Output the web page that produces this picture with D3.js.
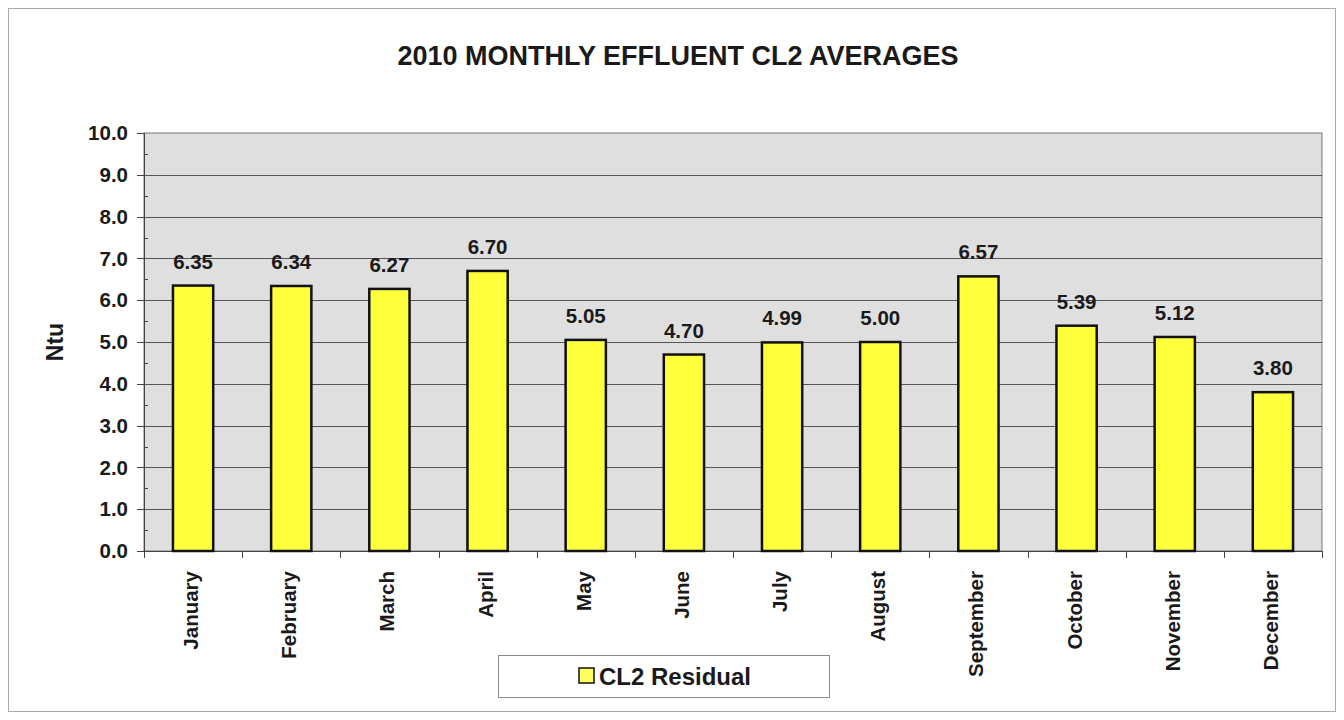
<!DOCTYPE html>
<html lang="en">
<head>
  <meta charset="UTF-8">
  <title>2010 Monthly Effluent CL2 Averages</title>
  <script src="https://d3js.org/d3.v7.min.js"></script>
  <style>
    body, html { margin: 0; padding: 0; background: #fff; }
    svg { display: block; font-family: Arial, "Liberation Sans", sans-serif; }
    .title { font-size: 27px; font-weight: bold; fill: #1a1a1a; text-anchor: middle; }
    .ytick text, .xlab, .vlabel { font-size: 20.5px; font-weight: bold; fill: #1a1a1a; }
    .ylabel { font-size: 23px; font-weight: bold; fill: #1a1a1a; text-anchor: middle; }
  </style>
</head>
<body>
<svg id="chart" width="1344" height="720"></svg>
<script>
  // monthly averages
  const months = ["January", "February", "March", "April", "May", "June",
                  "July", "August", "September", "October", "November", "December"];
  const cl2 = [6.35, 6.34, 6.27, 6.70, 5.05, 4.70, 4.99, 5.00, 6.57, 5.39, 5.12, 3.80];
  const yTicks = [0, 1, 2, 3, 4, 5, 6, 7, 8, 9, 10];
  const minorTicks = d3.range(0.5, 10, 1);

  const svg = d3.select("#chart");
  const pLeft = 144, pRight = 1322, pTop = 133, pBottom = 551;

  // outer frame
  svg.append("rect")
    .attr("x", 8.5).attr("y", 8.5).attr("width", 1327).attr("height", 703)
    .attr("fill", "none").attr("stroke", "#aaa").attr("stroke-width", 1);

  svg.append("text").attr("class", "title")
    .attr("x", 678).attr("y", 65)
    .text("2010 MONTHLY EFFLUENT CL2 AVERAGES");

  const x = d3.scaleBand().domain(months).range([pLeft, pRight])
    .paddingInner(0.59).paddingOuter(0.295);
  const xOuter = d3.scaleBand().domain(months).range([pLeft, pRight]);
  const y = d3.scaleLinear().domain([0, 10]).range([pBottom, pTop]);

  // plot background
  svg.append("rect")
    .attr("x", pLeft).attr("y", pTop).attr("width", pRight - pLeft).attr("height", pBottom - pTop)
    .attr("fill", "#dfdfdf").attr("stroke", "#777").attr("stroke-width", 1);

  // gridlines
  svg.append("g").selectAll("line").data(yTicks.slice(1, -1)).join("line")
    .attr("x1", pLeft).attr("x2", pRight)
    .attr("y1", d => Math.round(y(d)) + 0.5).attr("y2", d => Math.round(y(d)) + 0.5)
    .attr("stroke", "#555").attr("stroke-width", 1);

  // y axis
  const yAxis = svg.append("g").attr("class", "ytick");
  yAxis.append("line")
    .attr("x1", pLeft + 0.5).attr("x2", pLeft + 0.5).attr("y1", pTop).attr("y2", pBottom)
    .attr("stroke", "#444");
  yAxis.selectAll("line.major").data(yTicks).join("line").attr("class", "major")
    .attr("x1", pLeft - 7).attr("x2", pLeft)
    .attr("y1", d => Math.round(y(d)) + 0.5).attr("y2", d => Math.round(y(d)) + 0.5)
    .attr("stroke", "#444");
  yAxis.selectAll("line.minor").data(minorTicks).join("line").attr("class", "minor")
    .attr("x1", pLeft).attr("x2", pLeft + 4)
    .attr("y1", d => Math.round(y(d)) + 0.5).attr("y2", d => Math.round(y(d)) + 0.5)
    .attr("stroke", "#444");
  yAxis.selectAll("text").data(yTicks).join("text")
    .attr("x", pLeft - 16).attr("y", d => y(d)).attr("dy", "0.35em")
    .attr("text-anchor", "end")
    .text(d => d.toFixed(1));

  svg.append("text").attr("class", "ylabel")
    .attr("transform", `translate(63,${(pTop + pBottom) / 2}) rotate(-90)`)
    .text("Ntu");

  // x axis
  const xAxis = svg.append("g");
  xAxis.append("line")
    .attr("x1", pLeft).attr("x2", pRight).attr("y1", pBottom + 0.5).attr("y2", pBottom + 0.5)
    .attr("stroke", "#444");
  xAxis.selectAll("line.tick").data(months.concat(["end"])).join("line").attr("class", "tick")
    .attr("x1", (d, i) => Math.round(pLeft + i * xOuter.step()) + 0.5)
    .attr("x2", (d, i) => Math.round(pLeft + i * xOuter.step()) + 0.5)
    .attr("y1", pBottom).attr("y2", pBottom + 7)
    .attr("stroke", "#444");
  xAxis.selectAll("text").data(months).join("text").attr("class", "xlab")
    .attr("transform", d => `translate(${x(d) + x.bandwidth() / 2 + 5},${pBottom + 20}) rotate(-90)`)
    .attr("text-anchor", "end")
    .text(d => d);

  // bars
  svg.append("g").selectAll("rect").data(cl2).join("rect")
    .attr("x", (d, i) => x(months[i]))
    .attr("y", d => y(d))
    .attr("width", x.bandwidth())
    .attr("height", d => pBottom - y(d))
    .attr("fill", "#ffff3c").attr("stroke", "#111").attr("stroke-width", 2.5);

  svg.append("g").selectAll("text").data(cl2).join("text").attr("class", "vlabel")
    .attr("x", (d, i) => x(months[i]) + x.bandwidth() / 2)
    .attr("y", d => y(d) - 17)
    .attr("text-anchor", "middle")
    .text(d => d.toFixed(2));

  // legend
  const lg = svg.append("g").attr("transform", "translate(498,655)");
  lg.append("rect").attr("x", 0.5).attr("y", 0.5).attr("width", 331).attr("height", 42)
    .attr("fill", "#fff").attr("stroke", "#888");
  lg.append("rect").attr("x", 81).attr("y", 13).attr("width", 15).attr("height", 15)
    .attr("fill", "#ffff60").attr("stroke", "#111").attr("stroke-width", 1.5);
  lg.append("text").attr("x", 101).attr("y", 30)
    .attr("font-size", 24).attr("font-weight", "bold").attr("fill", "#1a1a1a")
    .text("CL2 Residual");
</script>
</body>
</html>
